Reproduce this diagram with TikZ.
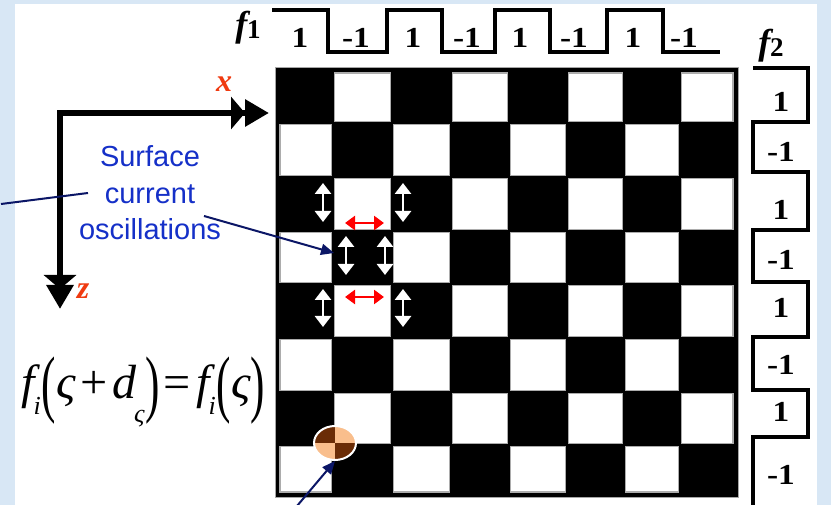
\documentclass[tikz,border=0pt]{standalone}
\usepackage{fontspec}
\usepackage{graphicx}
\setmainfont{Liberation Serif}
\newfontfamily\arialf{Liberation Sans}
\usetikzlibrary{arrows.meta,shapes.geometric}
\definecolor{bgblue}{HTML}{D8E7F5}
\definecolor{oscblue}{HTML}{1530C8}
\definecolor{navy}{HTML}{0B1666}
\definecolor{axred}{HTML}{F03A10}
\definecolor{lightor}{HTML}{F9BE8C}
\definecolor{darkbr}{HTML}{6A2C06}
\newcommand\fsub[1]{\raisebox{-0.32em}{\fontsize{26}{26}\selectfont\itshape #1}}
\newcommand\fsubl[1]{\raisebox{-0.5em}{\fontsize{26}{26}\selectfont\itshape #1}}
\newcommand\bigpar[1]{\raisebox{-0.2em}{\scalebox{0.9}[1.55]{\upshape #1}}}
\newcommand\widelab[1]{\scalebox{1.15}[1]{#1}}
\tikzset{
  wave/.style={line width=4pt, line join=miter},
  cellw/.style={fill=white, draw=gray!65, line width=1.2pt},
  lab/.style={font=\fontsize{29}{29}\selectfont\bfseries, inner sep=0pt},
  axisline/.style={line width=6pt, line join=miter},
  osc/.style={white, line width=2.8pt, {Triangle[length=11pt,width=16pt]}-{Triangle[length=11pt,width=16pt]}},
  oscr/.style={red, line width=2.6pt, {Triangle[length=10pt,width=14pt]}-{Triangle[length=10pt,width=14pt]}},
  conn/.style={navy, line width=2pt},
  connarr/.style={navy, line width=2pt, -{Triangle[length=13pt,width=11pt]}},
  axlab/.style={text=axred, font=\fontsize{32}{32}\selectfont\bfseries\itshape, inner sep=0pt}
}
\begin{document}
\begin{tikzpicture}[x=1pt,y=-1pt]
\useasboundingbox (0,0) rectangle (831,505);
\fill[bgblue] (0,0) rectangle (831,505);
\fill[white] (15,4) rectangle (817,505);

% checkerboard
\def\X{{275,333,392,451,509,567,624,680,738}}
\def\Y{{68,123,177,231,284,338,392,445,497}}
\filldraw[fill=black, draw=gray!70, line width=1pt] (275,68) rectangle (738,497);
\foreach \r in {0,...,7}{\foreach \c in {0,...,7}{
  \pgfmathtruncatemacro\odd{mod(\r+\c,2)}
  \ifnum\odd=1
    \pgfmathsetmacro\xa{max(\X[\c]+1.5,280)}
    \pgfmathsetmacro\xb{min(\X[\c+1]-1.5,733)}
    \pgfmathsetmacro\ya{max(\Y[\r]+1.5,73)}
    \pgfmathsetmacro\yb{min(\Y[\r+1]-1.5,492)}
    \filldraw[cellw] (\xa,\ya) rectangle (\xb,\yb);
  \fi}}

% f1 waveform
\node[font=\fontsize{36}{36}\selectfont\bfseries\itshape, inner sep=0pt] (f1) at (248,28) {f\raisebox{-0.05em}{\fontsize{27}{27}\selectfont\upshape 1}};
\draw[wave] (272,10) -- (328,10) -- (328,52) -- (387,52) -- (387,10) -- (442,10) -- (442,52) -- (495,52) -- (495,10) -- (550,10) -- (550,52) -- (607,52) -- (607,10) -- (663,10) -- (663,52) -- (720,52);
\foreach \x/\t [count=\i] in {300/1,356/-1,413/1,467/-1,520/1,574/-1,633/1,684/-1}
  \node[lab] (ta\i) at (\x,38) {\widelab{\t}};

% f2 waveform
\node[font=\fontsize{36}{36}\selectfont\bfseries\itshape, inner sep=0pt] (f2) at (771,46) {f\raisebox{-0.05em}{\fontsize{27}{27}\selectfont\upshape 2}};
\draw[wave] (753,68) -- (808,68) -- (808,122) -- (753,122) -- (753,172) -- (808,172) -- (808,230) -- (753,230) -- (753,282) -- (808,282) -- (808,337) -- (753,337) -- (753,390) -- (808,390) -- (808,437) -- (753,437) -- (753,505);
\foreach \y/\t [count=\i] in {102/1,152/-1,210/1,260/-1,308/1,365/-1,412/1,475/-1}
  \node[lab] (tb\i) at (781,\y) {\widelab{\t}};

% axes
\coordinate (O) at (60,113);
\coordinate (xtip) at (265,113);
\coordinate (ztip) at (60,309);
\draw[axisline, {Triangle[length=24pt,width=26pt,sep=-4pt] Triangle[length=14pt,width=32pt]}-{Triangle[length=14pt,width=32pt,sep=-4pt] Triangle[length=24pt,width=26pt]}] (xtip) -- (O) -- (ztip);
\node[axlab] (xl) at (224,84) {x};
\node[axlab] (zl) at (83,291) {z};

% oscillation arrows
\foreach \x/\ya/\yb [count=\i] in {323/183/222,403/183/222,346/236/275,385/236/275,323/289/327,403/289/327}
  { \coordinate (va\i) at (\x,\ya); \coordinate (vb\i) at (\x,\yb); \draw[osc] (va\i) -- (vb\i); }
\foreach \y [count=\i] in {223,297}
  { \coordinate (ha\i) at (345,\y); \coordinate (hb\i) at (384,\y); \draw[oscr] (ha\i) -- (hb\i); }

% text and connectors
\node[align=center, text=oscblue, font=\arialf\fontsize{29}{36.5}\selectfont, inner sep=0pt] (sco) at (150,193) {Surface\\current\\oscillations};
\coordinate (c1) at (88,193);
\coordinate (c0) at (1,204);
\draw[conn] (c1) -- (c0);
\coordinate (c2) at (204,216);
\coordinate (cell) at (334,253);
\draw[connarr] (c2) -- (cell);

% orange ellipse
\begin{scope}
  \clip (335,443) ellipse [x radius=21, y radius=17];
  \fill[lightor] (313,425) rectangle (357,461);
  \fill[darkbr] (313,425) rectangle (335,443);
  \fill[darkbr] (335,443) rectangle (357,461);
\end{scope}
\node[ellipse, minimum width=42pt, minimum height=34pt, draw=white, line width=2pt, inner sep=0pt] (ell) at (335,443) {};
\coordinate (c3) at (297,506);
\draw[connarr] (c3) -- (ell.south);

% formula
\node[font=\fontsize{48}{48}\selectfont, inner sep=0pt, anchor=west] (eq) at (21,392)
  {\itshape f\kern-1pt\fsub{i}\kern1pt\bigpar{(}ς\kern2pt+\kern2pt d\kern-2pt\fsubl{ς}\kern1pt\bigpar{)}\kern1pt=\kern3pt f\kern-1pt\fsub{i}\kern1pt\bigpar{(}ς\bigpar{)}};
\end{tikzpicture}
\end{document}
